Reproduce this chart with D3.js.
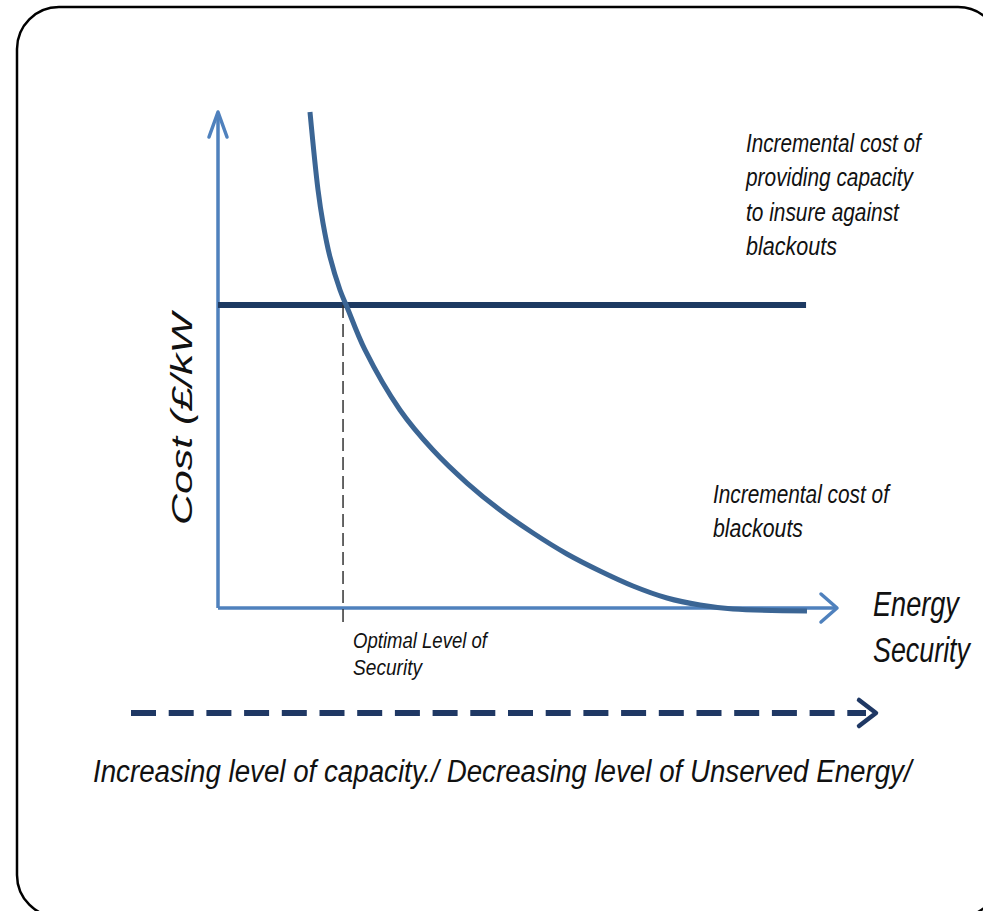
<!DOCTYPE html>
<html>
<head>
<meta charset="utf-8">
<script src="https://cdn.jsdelivr.net/npm/d3@7"></script>
<style>
  body { margin: 0; background: #fff; }
  text { font-family: "Liberation Sans Narrow", "Liberation Sans", Arial, sans-serif; font-style: italic; fill: #111; }
</style>
</head>
<body>
<svg class="chart"></svg>
<script>
// energy security (x) vs incremental cost of blackouts (y), both 0-100
var security = [14.86, 16.16, 16.96, 18.09, 19.71, 20.84, 23.75, 29.40, 34.73, 40.23, 45.56, 50.89, 56.38, 61.71, 67.04, 72.54, 77.87, 83.20, 95.15];
var blackoutCost = [100, 84.27, 77.62, 70.77, 64.11, 60.69, 52.02, 39.92, 31.85, 25.20, 19.76, 15.12, 10.89, 7.46, 4.44, 2.02, 0.60, -0.20, -0.60];
var capacityCost = 61.1;
var capacityEnd = 95;
var optimalSecurity = 20.2;

var capacityLabel = ["Incremental cost of", "providing capacity", "to insure against", "blackouts"];
var blackoutLabel = ["Incremental cost of", "blackouts"];
var optimalLabel = ["Optimal Level of", "Security"];
var xTitle = ["Energy", "Security"];
var yTitle = "Cost (£/kW";
var footer = "Increasing level of capacity./ Decreasing level of Unserved Energy/";

var width = 983, height = 911;
var svg = d3.select(".chart").attr("width", width).attr("height", height);

var x = d3.scaleLinear().domain([0, 100]).range([218, 837]);
var y = d3.scaleLinear().domain([0, 100]).range([608, 112]);

// rounded frame
svg.append("rect")
    .attr("x", 17).attr("y", 7)
    .attr("width", 983).attr("height", 910)
    .attr("rx", 42).attr("ry", 42)
    .attr("fill", "none")
    .attr("stroke", "#000")
    .attr("stroke-width", 2.5);

var axisColor = "#4f81bd";

// y axis with open arrow
svg.append("line")
    .attr("x1", x(0)).attr("y1", y(0))
    .attr("x2", x(0)).attr("y2", y(100) + 2)
    .attr("stroke", axisColor).attr("stroke-width", 3.5);
svg.append("path")
    .attr("d", "M" + (x(0) - 9) + "," + (y(100) + 25) + "L" + x(0) + "," + y(100) + "L" + (x(0) + 9) + "," + (y(100) + 25))
    .attr("fill", "none").attr("stroke", axisColor).attr("stroke-width", 3.5)
    .attr("stroke-linecap", "round").attr("stroke-linejoin", "round");

// x axis with open arrow
svg.append("line")
    .attr("x1", x(0)).attr("y1", y(0))
    .attr("x2", x(100) - 2).attr("y2", y(0))
    .attr("stroke", axisColor).attr("stroke-width", 3.5);
svg.append("path")
    .attr("d", "M" + (x(100) - 16) + "," + (y(0) - 14) + "L" + x(100) + "," + y(0) + "L" + (x(100) - 16) + "," + (y(0) + 14))
    .attr("fill", "none").attr("stroke", axisColor).attr("stroke-width", 3.5)
    .attr("stroke-linecap", "round").attr("stroke-linejoin", "round");

// capacity cost (flat)
svg.append("line")
    .attr("x1", x(0)).attr("y1", y(capacityCost))
    .attr("x2", x(capacityEnd)).attr("y2", y(capacityCost))
    .attr("stroke", "#1d3a62").attr("stroke-width", 6);

// optimal level marker
svg.append("line")
    .attr("x1", x(optimalSecurity)).attr("y1", y(capacityCost))
    .attr("x2", x(optimalSecurity)).attr("y2", y(0) + 17)
    .attr("stroke", "#333").attr("stroke-width", 1.5)
    .attr("stroke-dasharray", "13,6");

// blackout cost curve
var line = d3.line()
    .x(function(d) { return x(d[0]); })
    .y(function(d) { return y(d[1]); })
    .curve(d3.curveCatmullRom.alpha(0.5));

svg.append("path")
    .datum(d3.zip(security, blackoutCost))
    .attr("d", line)
    .attr("fill", "none")
    .attr("stroke", "#3b6594")
    .attr("stroke-width", 5);

// text squeezed horizontally to the width it has in the figure
function squeezed(t, tx, ty, size, len, rotate) {
    var el = svg.append("text")
        .attr("font-size", size)
        .text(t);
    var w = el.node().getComputedTextLength();
    el.attr("transform", "translate(" + tx + "," + ty + ")" + (rotate ? " rotate(" + rotate + ")" : "") +
        " scale(" + (len / w) + ",1)");
    return el;
}

function block(lines, x0, y0, step, size, lengths) {
    lines.forEach(function(t, i) {
        squeezed(t, x0, y0 + i * step, size, lengths[i]);
    });
}

block(capacityLabel, 746, 152, 34.3, 25, [175, 167, 153, 91]);
block(blackoutLabel, 713, 503, 34, 25, [176, 90]);
block(optimalLabel, x(optimalSecurity) + 10, 648, 27, 22, [134, 69]);
block(xTitle, 873, 616, 46, 35, [86, 97]);

squeezed(yTitle, 192, 525, 30, 212, -90)
    .attr("font-family", "DejaVu Sans, sans-serif");

// capacity direction arrow
var arrowY = 713;
svg.append("line")
    .attr("x1", 131).attr("y1", arrowY)
    .attr("x2", 866).attr("y2", arrowY)
    .attr("stroke", "#1f3864").attr("stroke-width", 6)
    .attr("stroke-dasharray", "25,12.7");
svg.append("path")
    .attr("d", "M859,700L876," + arrowY + "L859,726")
    .attr("fill", "none").attr("stroke", "#1f3864").attr("stroke-width", 4.5)
    .attr("stroke-linecap", "round").attr("stroke-linejoin", "round");

squeezed(footer, 93, 782, 31, 819);
</script>
</body>
</html>
